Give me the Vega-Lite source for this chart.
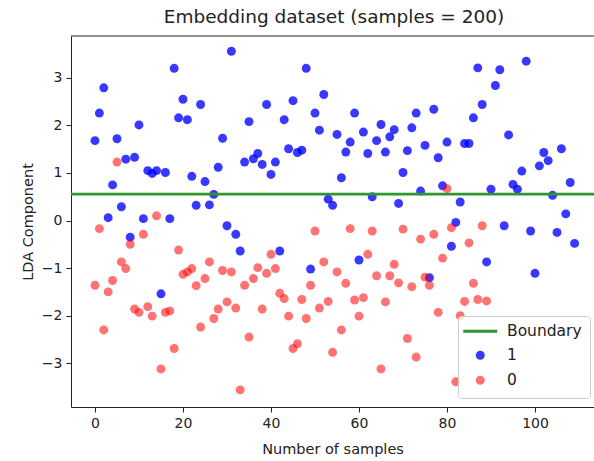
{
  "$schema": "https://vega.github.io/schema/vega-lite/v6.json",
  "width": 523,
  "height": 371,
  "autosize": {"type": "none"},
  "padding": {"left": 71, "top": 36, "right": 0, "bottom": 54},
  "title": {"text": "Embedding dataset (samples = 200)", "fontSize": 18.5, "fontWeight": "normal", "font": "DejaVu Sans", "color": "#222222", "offset": 9, "dx": 1.5},
  "config": {
    "font": "DejaVu Sans",
    "view": {"stroke": null},
    "axis": {
      "labelFont": "DejaVu Sans", "labelFontSize": 14, "labelColor": "#222222",
      "titleFont": "DejaVu Sans", "titleFontSize": 14.5, "titleFontWeight": "normal", "titleColor": "#222222",
      "tickColor": "#222222", "domainColor": "#222222", "grid": false, "tickSize": 5, "labelPadding": 4, "titlePadding": 6
    },
    "legend": {"title": null, "orient": "none", "legendX": 387, "legendY": 280, "padding": 7.5, "symbolSize": 80, "symbolOffset": 7, "labelOffset": 19, "labelFontSize": 15.5, "labelFont": "DejaVu Sans", "labelColor": "#222222", "rowPadding": 4, "strokeColor": "#cccccc", "fillColor": "rgba(255,255,255,0.8)", "cornerRadius": 3, "symbolStrokeWidth": 2.8}
  },
  "datasets": {
    "pts": [
      {"x":0,"y":1.68,"c":"1"},{"x":1,"y":2.26,"c":"1"},{"x":2,"y":2.79,"c":"1"},{"x":3,"y":0.06,"c":"1"},{"x":4,"y":0.75,"c":"1"},
      {"x":5,"y":1.72,"c":"1"},{"x":6,"y":0.29,"c":"1"},{"x":7,"y":1.29,"c":"1"},{"x":8,"y":-0.35,"c":"1"},{"x":9,"y":1.33,"c":"1"},
      {"x":10,"y":2.01,"c":"1"},{"x":11,"y":0.04,"c":"1"},{"x":12,"y":1.05,"c":"1"},{"x":13,"y":0.99,"c":"1"},{"x":14,"y":1.05,"c":"1"},
      {"x":15,"y":-1.54,"c":"1"},{"x":16,"y":1.01,"c":"1"},{"x":17,"y":0.04,"c":"1"},{"x":18,"y":3.2,"c":"1"},{"x":19,"y":2.16,"c":"1"},
      {"x":20,"y":2.55,"c":"1"},{"x":21,"y":2.12,"c":"1"},{"x":22,"y":0.93,"c":"1"},{"x":23,"y":0.32,"c":"1"},{"x":24,"y":2.44,"c":"1"},
      {"x":25,"y":0.82,"c":"1"},{"x":26,"y":0.33,"c":"1"},{"x":27,"y":0.55,"c":"1"},{"x":28,"y":1.12,"c":"1"},{"x":29,"y":1.73,"c":"1"},
      {"x":30,"y":-0.11,"c":"1"},{"x":31,"y":3.56,"c":"1"},{"x":32,"y":-0.29,"c":"1"},{"x":33,"y":-0.64,"c":"1"},{"x":34,"y":1.23,"c":"1"},
      {"x":35,"y":2.08,"c":"1"},{"x":36,"y":1.3,"c":"1"},{"x":37,"y":1.41,"c":"1"},{"x":38,"y":1.18,"c":"1"},{"x":39,"y":2.44,"c":"1"},
      {"x":40,"y":0.97,"c":"1"},{"x":41,"y":1.23,"c":"1"},{"x":42,"y":-0.64,"c":"1"},{"x":43,"y":2.12,"c":"1"},{"x":44,"y":1.51,"c":"1"},
      {"x":45,"y":2.52,"c":"1"},{"x":46,"y":1.43,"c":"1"},{"x":47,"y":1.48,"c":"1"},{"x":48,"y":3.2,"c":"1"},{"x":49,"y":-1.02,"c":"1"},
      {"x":50,"y":2.26,"c":"1"},{"x":51,"y":1.9,"c":"1"},{"x":52,"y":2.65,"c":"1"},{"x":53,"y":0.45,"c":"1"},{"x":54,"y":0.32,"c":"1"},
      {"x":55,"y":1.81,"c":"1"},{"x":56,"y":0.9,"c":"1"},{"x":57,"y":1.44,"c":"1"},{"x":58,"y":1.65,"c":"1"},{"x":59,"y":2.26,"c":"1"},
      {"x":60,"y":-0.83,"c":"1"},{"x":61,"y":1.86,"c":"1"},{"x":62,"y":1.41,"c":"1"},{"x":63,"y":0.5,"c":"1"},{"x":64,"y":1.68,"c":"1"},
      {"x":65,"y":2.02,"c":"1"},{"x":66,"y":1.44,"c":"1"},{"x":67,"y":1.76,"c":"1"},{"x":68,"y":1.91,"c":"1"},{"x":69,"y":0.36,"c":"1"},
      {"x":70,"y":1.01,"c":"1"},{"x":71,"y":1.47,"c":"1"},{"x":72,"y":1.95,"c":"1"},{"x":73,"y":2.26,"c":"1"},{"x":74,"y":0.62,"c":"1"},
      {"x":75,"y":1.58,"c":"1"},{"x":76,"y":-1.2,"c":"1"},{"x":77,"y":2.34,"c":"1"},{"x":78,"y":1.32,"c":"1"},{"x":79,"y":0.73,"c":"1"},
      {"x":80,"y":1.65,"c":"1"},{"x":81,"y":-0.54,"c":"1"},{"x":82,"y":-0.04,"c":"1"},{"x":83,"y":0.39,"c":"1"},{"x":84,"y":1.62,"c":"1"},
      {"x":85,"y":1.62,"c":"1"},{"x":86,"y":2.16,"c":"1"},{"x":87,"y":3.21,"c":"1"},{"x":88,"y":2.44,"c":"1"},{"x":89,"y":-0.87,"c":"1"},
      {"x":90,"y":0.66,"c":"1"},{"x":91,"y":2.84,"c":"1"},{"x":92,"y":3.17,"c":"1"},{"x":93,"y":-0.11,"c":"1"},{"x":94,"y":1.8,"c":"1"},
      {"x":95,"y":0.76,"c":"1"},{"x":96,"y":0.66,"c":"1"},{"x":97,"y":1.04,"c":"1"},{"x":98,"y":3.35,"c":"1"},{"x":99,"y":-0.22,"c":"1"},
      {"x":100,"y":-1.11,"c":"1"},{"x":101,"y":1.15,"c":"1"},{"x":102,"y":1.43,"c":"1"},{"x":103,"y":1.26,"c":"1"},{"x":104,"y":0.53,"c":"1"},
      {"x":105,"y":-0.25,"c":"1"},{"x":106,"y":1.51,"c":"1"},{"x":107,"y":0.14,"c":"1"},{"x":108,"y":0.8,"c":"1"},{"x":109,"y":-0.48,"c":"1"},
      {"x":0,"y":-1.36,"c":"0"},{"x":1,"y":-0.17,"c":"0"},{"x":2,"y":-2.3,"c":"0"},{"x":3,"y":-1.5,"c":"0"},{"x":4,"y":-1.26,"c":"0"},
      {"x":5,"y":1.23,"c":"0"},{"x":6,"y":-0.87,"c":"0"},{"x":7,"y":-1.01,"c":"0"},{"x":8,"y":-0.5,"c":"0"},{"x":9,"y":-1.86,"c":"0"},
      {"x":10,"y":-1.93,"c":"0"},{"x":11,"y":-0.29,"c":"0"},{"x":12,"y":-1.81,"c":"0"},{"x":13,"y":-2.01,"c":"0"},{"x":14,"y":0.1,"c":"0"},
      {"x":15,"y":-3.12,"c":"0"},{"x":16,"y":-1.93,"c":"0"},{"x":17,"y":-1.9,"c":"0"},{"x":18,"y":-2.69,"c":"0"},{"x":19,"y":-0.62,"c":"0"},
      {"x":20,"y":-1.13,"c":"0"},{"x":21,"y":-1.08,"c":"0"},{"x":22,"y":-1.01,"c":"0"},{"x":23,"y":-1.37,"c":"0"},{"x":24,"y":-2.24,"c":"0"},
      {"x":25,"y":-1.22,"c":"0"},{"x":26,"y":-0.87,"c":"0"},{"x":27,"y":-2.06,"c":"0"},{"x":28,"y":-1.86,"c":"0"},{"x":29,"y":-1.05,"c":"0"},
      {"x":30,"y":-1.71,"c":"0"},{"x":31,"y":-1.08,"c":"0"},{"x":32,"y":-1.84,"c":"0"},{"x":33,"y":-3.56,"c":"0"},{"x":34,"y":-1.36,"c":"0"},
      {"x":35,"y":-2.45,"c":"0"},{"x":36,"y":-1.22,"c":"0"},{"x":37,"y":-0.99,"c":"0"},{"x":38,"y":-1.86,"c":"0"},{"x":39,"y":-1.11,"c":"0"},
      {"x":40,"y":-0.71,"c":"0"},{"x":41,"y":-1.01,"c":"0"},{"x":42,"y":-1.53,"c":"0"},{"x":43,"y":-1.64,"c":"0"},{"x":44,"y":-2.01,"c":"0"},
      {"x":45,"y":-2.69,"c":"0"},{"x":46,"y":-2.59,"c":"0"},{"x":47,"y":-1.66,"c":"0"},{"x":48,"y":-2.06,"c":"0"},{"x":49,"y":-1.36,"c":"0"},
      {"x":50,"y":-0.22,"c":"0"},{"x":51,"y":-1.84,"c":"0"},{"x":52,"y":-0.87,"c":"0"},{"x":53,"y":-1.7,"c":"0"},{"x":54,"y":-2.77,"c":"0"},
      {"x":55,"y":-1.08,"c":"0"},{"x":56,"y":-2.3,"c":"0"},{"x":57,"y":-1.32,"c":"0"},{"x":58,"y":-0.17,"c":"0"},{"x":59,"y":-1.67,"c":"0"},
      {"x":60,"y":-2.01,"c":"0"},{"x":61,"y":-1.62,"c":"0"},{"x":62,"y":-0.71,"c":"0"},{"x":63,"y":-0.22,"c":"0"},{"x":64,"y":-1.16,"c":"0"},
      {"x":65,"y":-3.12,"c":"0"},{"x":66,"y":-1.71,"c":"0"},{"x":67,"y":-1.16,"c":"0"},{"x":68,"y":-0.92,"c":"0"},{"x":69,"y":-1.31,"c":"0"},
      {"x":70,"y":-0.18,"c":"0"},{"x":71,"y":-2.48,"c":"0"},{"x":72,"y":-1.39,"c":"0"},{"x":73,"y":-2.87,"c":"0"},{"x":74,"y":-0.39,"c":"0"},
      {"x":75,"y":-1.19,"c":"0"},{"x":76,"y":-1.36,"c":"0"},{"x":77,"y":-0.29,"c":"0"},{"x":78,"y":-1.93,"c":"0"},{"x":79,"y":-0.79,"c":"0"},
      {"x":80,"y":0.67,"c":"0"},{"x":81,"y":-0.15,"c":"0"},{"x":82,"y":-3.39,"c":"0"},{"x":83,"y":-2.0,"c":"0"},{"x":84,"y":-1.7,"c":"0"},
      {"x":85,"y":-0.47,"c":"0"},{"x":86,"y":-1.32,"c":"0"},{"x":87,"y":-1.66,"c":"0"},{"x":88,"y":-0.11,"c":"0"},{"x":89,"y":-1.69,"c":"0"}
    ],
    "bnd": [{"y": 0.556, "c": "Boundary"}]
  },
  "layer": [
    {
      "data": {"name": "pts"},
      "mark": {"type": "point", "filled": true, "size": 80, "opacity": 1},
      "encoding": {
        "x": {"field": "x", "type": "quantitative", "scale": {"domain": [-5.45, 113.41], "nice": false, "zero": false},
              "axis": {"values": [0, 20, 40, 60, 80, 100], "title": "Number of samples", "titlePadding": 12}},
        "y": {"field": "y", "type": "quantitative", "scale": {"domain": [-3.92, 3.88], "nice": false, "zero": false},
              "axis": {"values": [-3, -2, -1, 0, 1, 2, 3], "title": "LDA Component"}},
        "color": {"field": "c", "type": "nominal",
                  "scale": {"domain": ["Boundary", "1", "0"], "range": ["#2f972f", "rgba(0,0,255,0.78)", "rgba(255,0,0,0.55)"]}},
        "shape": {"field": "c", "type": "nominal",
                  "scale": {"domain": ["Boundary", "1", "0"], "range": ["M-3.8,0H3.8", "circle", "circle"]}}
      }
    },
    {
      "data": {"name": "bnd"},
      "mark": {"type": "rule", "strokeWidth": 2.8},
      "encoding": {
        "y": {"field": "y", "type": "quantitative"},
        "stroke": {"field": "c", "type": "nominal",
                   "scale": {"domain": ["Boundary", "1", "0"], "range": ["#2f972f", "transparent", "transparent"]}}
      }
    },
    {
      "data": {"values": [{"y": 3.88}]},
      "mark": {"type": "rule", "color": "#222222", "strokeWidth": 1},
      "encoding": {"y": {"field": "y", "type": "quantitative"}}
    }
  ]
}
